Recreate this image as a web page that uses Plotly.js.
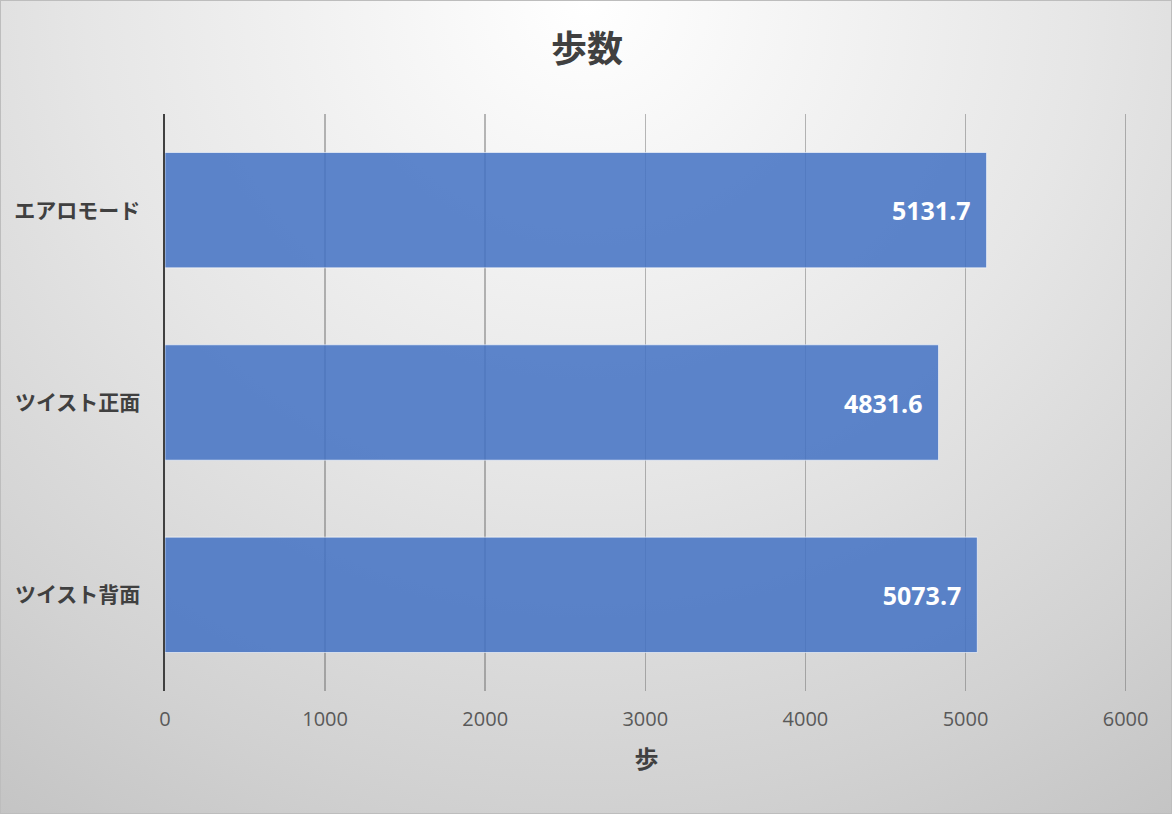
<!DOCTYPE html>
<html>
<head>
<meta charset="utf-8">
<script src="https://cdn.plot.ly/plotly-3.0.1.min.js"></script>
<style>
  html, body { margin: 0; padding: 0; }
  #chart {
    width: 1172px; height: 814px; box-sizing: border-box;
    border: 1px solid #bdbdbd;
    background: radial-gradient(ellipse 95% 130% at 50% 0%, #ffffff 0%, #e6e6e6 45%, #d2d2d2 75%, #bfbfbf 100%);
  }
</style>
</head>
<body>
<div id="chart"></div>
<script>
const categories = ["エアロモード", "ツイスト正面", "ツイスト背面"];
const steps = [5131.7, 4831.6, 5073.7];
const stepLabels = ["5131.7", "4831.6", "5073.7"];
const xTicks = [0, 1000, 2000, 3000, 4000, 5000, 6000];
const chartTitle = "歩数";
const xTitle = "歩";

const FONT = '"Open Sans", "Noto Sans CJK JP", sans-serif';
const JP = '"Noto Sans CJK JP", "Open Sans", sans-serif';

const trace = {
  type: 'bar',
  orientation: 'h',
  x: steps,
  y: categories,
  width: 0.6,
  marker: { color: 'rgba(68,114,196,0.86)', line: { color: 'rgba(255,255,255,0.6)', width: 1 } },
  text: stepLabels,
  texttemplate: '%{text}\u00a0\u00a0',
  textposition: 'inside',
  insidetextanchor: 'end',
  textfont: { family: FONT, size: 25, color: '#ffffff', weight: 'bold' },
  hoverinfo: 'x+y',
  cliponaxis: false
};

const layout = {
  width: 1172, height: 814,
  paper_bgcolor: 'rgba(0,0,0,0)',
  plot_bgcolor: 'rgba(0,0,0,0)',
  margin: { l: 164, r: 45, t: 113, b: 124 },
  showlegend: false,
  title: {
    text: '<b>' + chartTitle + '</b>',
    font: { family: JP, size: 36, color: '#404040' },
    x: 0.5, xanchor: 'center', y: 0.94, yanchor: 'middle', yref: 'container'
  },
  xaxis: {
    range: [0, 6015],
    tickvals: xTicks,
    ticktext: xTicks.map(String),
    showgrid: true,
    gridcolor: 'rgba(100,100,100,0.45)',
    gridwidth: 1.5,
    zeroline: false,
    showline: false,
    ticks: 'outside', ticklen: 10, tickcolor: 'rgba(0,0,0,0)',
    tickfont: { family: FONT, size: 20, color: '#595959' },
    title: { text: '<b>' + xTitle + '</b>', font: { family: JP, size: 24, color: '#404040' }, standoff: 20 },
    fixedrange: true
  },
  yaxis: {
    type: 'category',
    categoryarray: categories,
    autorange: 'reversed',
    showgrid: false,
    zeroline: false,
    showline: true, linecolor: '#404040', linewidth: 2.5,
    ticks: 'outside', ticklen: 18, tickcolor: 'rgba(0,0,0,0)',
    tickfont: { family: JP, size: 21, color: '#404040', weight: 'bold' },
    fixedrange: true
  }
};

Plotly.newPlot('chart', [trace], layout, { displayModeBar: false, staticPlot: true });
</script>
</body>
</html>
